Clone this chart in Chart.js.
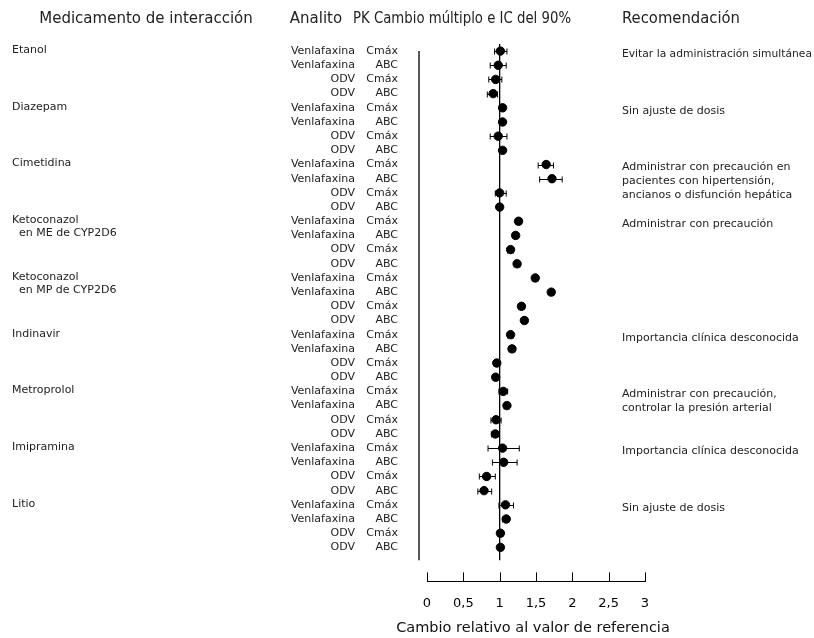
<!DOCTYPE html>
<html>
<head>
<meta charset="utf-8">
<script src="https://cdn.jsdelivr.net/npm/chart.js@4.4.1/dist/chart.umd.min.js"></script>
<style>
  html, body { margin: 0; padding: 0; background: #fff; }
</style>
</head>
<body>
<canvas id="forestChart" width="814" height="638"></canvas>
<script>
/* Datos: cambio múltiplo (PK) e IC del 90% */
const drugs = [
  ['Etanol'], ['Diazepam'], ['Cimetidina'],
  ['Ketoconazol', '  en ME de CYP2D6'], ['Ketoconazol', '  en MP de CYP2D6'],
  ['Indinavir'], ['Metroprolol'], ['Imipramina'], ['Litio']
];
const analytes = ['Venlafaxina', 'Venlafaxina', 'ODV', 'ODV'];
const params = ['Cmáx', 'ABC', 'Cmáx', 'ABC'];

const estimate = [
  1.01, 0.98, 0.945, 0.91,
  1.04, 1.04, 0.98, 1.04,
  1.64, 1.72, 1.00, 1.00,
  1.26, 1.22, 1.15, 1.24,
  1.49, 1.71, 1.30, 1.34,
  1.15, 1.17, 0.96, 0.945,
  1.05, 1.10, 0.95, 0.94,
  1.04, 1.055, 0.82, 0.785,
  1.08, 1.09, 1.01, 1.01
];
const lower = [
  0.93, 0.87, 0.85, 0.83,
  1.00, 1.01, 0.87, 1.01,
  1.53, 1.55, 0.94, 0.97,
  1.22, 1.18, 1.11, 1.20,
  1.45, 1.67, 1.26, 1.30,
  1.11, 1.13, 0.92, 0.91,
  0.99, 1.06, 0.88, 0.89,
  0.84, 0.90, 0.72, 0.70,
  0.99, 1.04, 0.97, 0.97
];
const upper = [
  1.10, 1.09, 1.03, 0.97,
  1.07, 1.07, 1.10, 1.07,
  1.74, 1.86, 1.09, 1.03,
  1.30, 1.26, 1.19, 1.28,
  1.53, 1.75, 1.34, 1.38,
  1.19, 1.21, 1.00, 0.98,
  1.11, 1.13, 1.02, 0.99,
  1.27, 1.24, 0.94, 0.89,
  1.19, 1.13, 1.05, 1.05
];
const recommendations = [
  ['Evitar la administración simultánea'],
  ['Sin ajuste de dosis'],
  ['Administrar con precaución en', 'pacientes con hipertensión,', 'ancianos o disfunción hepática'],
  ['Administrar con precaución'],
  [],
  ['Importancia clínica desconocida'],
  ['Administrar con precaución,', 'controlar la presión arterial'],
  ['Importancia clínica desconocida'],
  ['Sin ajuste de dosis']
];
const xTicks = [0, 0.5, 1, 1.5, 2, 2.5, 3];
const xTitle = 'Cambio relativo al valor de referencia';

const FONT = 'DejaVu Sans';
const nRows = estimate.length;
const points = estimate.map((v, i) => ({ x: v, y: i }));

/* Textos, barras de error y marcas del eje */
const forestPlugin = {
  id: 'forest',
  beforeDatasetsDraw(chart) {
    const { ctx, scales: { x, y } } = chart;
    ctx.save();
    ctx.strokeStyle = '#000';
    ctx.lineWidth = 1;
    for (let i = 0; i < nRows; i++) {
      const py = Math.round(y.getPixelForValue(i)) + 0.5;
      const x1 = x.getPixelForValue(lower[i]);
      const x2 = x.getPixelForValue(upper[i]);
      ctx.beginPath();
      ctx.moveTo(x1, py); ctx.lineTo(x2, py);
      ctx.moveTo(x1, py - 3); ctx.lineTo(x1, py + 3);
      ctx.moveTo(x2, py - 3); ctx.lineTo(x2, py + 3);
      ctx.stroke();
    }
    ctx.restore();
  },
  afterDraw(chart) {
    const { ctx, chartArea, scales: { x, y } } = chart;
    ctx.save();
    ctx.fillStyle = '#222';
    ctx.textBaseline = 'middle';

    // encabezados
    ctx.font = '15px "' + FONT + '"';
    ctx.textAlign = 'center';
    ctx.fillText('Medicamento de interacción', 146, 19, 226);
    ctx.fillText('Analito', 316, 19);
    ctx.fillText('PK Cambio múltiplo e IC del 90%', 462, 19, 218);
    ctx.textAlign = 'left';
    ctx.fillText('Recomendación', 622, 19, 118);

    ctx.font = '11px "' + FONT + '"';
    drugs.forEach((lines, g) => {
      const y0 = y.getPixelForValue(g * 4);
      ctx.textAlign = 'left';
      lines.forEach((t, k) => {
        ctx.fillText(t, 12, y0 - 1 + k * 13);
      });
      recommendations[g].forEach((t, k) => {
        ctx.fillText(t, 622, y0 + 3 + k * 14, 190);
      });
    });
    for (let i = 0; i < nRows; i++) {
      const py = y.getPixelForValue(i);
      ctx.textAlign = 'right';
      ctx.fillText(analytes[i % 4], 355, py);
      ctx.fillText(params[i % 4], 398, py);
    }

    // marcas del eje x hacia arriba
    ctx.strokeStyle = '#000';
    ctx.lineWidth = 1;
    ctx.beginPath();
    xTicks.forEach(v => {
      const px = Math.round(x.getPixelForValue(v)) + 0.5;
      ctx.moveTo(px, chartArea.bottom);
      ctx.lineTo(px, chartArea.bottom - 9);
    });
    ctx.stroke();

    // título del eje x
    ctx.font = '14.5px "' + FONT + '"';
    ctx.fillStyle = '#111';
    ctx.textAlign = 'center';
    ctx.fillText(xTitle, (chartArea.left + chartArea.right) / 2 - 3, 628);
    ctx.restore();
  }
};

new Chart(document.getElementById('forestChart'), {
  type: 'scatter',
  data: {
    datasets: [
      {
        type: 'line',
        data: [{ x: 1, y: -0.5 }, { x: 1, y: 35.9 }],
        borderColor: '#000',
        borderWidth: 1.3,
        pointRadius: 0
      },
      {
        type: 'line',
        data: [{ x: -0.11, y: 0 }, { x: -0.11, y: 35.9 }],
        borderColor: '#000',
        borderWidth: 1.3,
        pointRadius: 0,
        clip: false
      },
      {
        data: points,
        backgroundColor: '#000',
        borderColor: '#000',
        pointRadius: 4.2,
        pointHoverRadius: 4.2
      }
    ]
  },
  options: {
    responsive: false,
    animation: false,
    layout: { padding: { left: 427, right: 169, top: 44, bottom: 13 } },
    plugins: { legend: { display: false }, tooltip: { enabled: false } },
    scales: {
      x: {
        type: 'linear',
        min: 0,
        max: 3,
        afterBuildTicks: axis => { axis.ticks = xTicks.map(v => ({ value: v })); },
        grid: { drawOnChartArea: false, drawTicks: false },
        border: { display: true, color: '#000', width: 1 },
        ticks: {
          padding: 14,
          color: '#000',
          font: { family: FONT, size: 13 },
          callback: v => String(v).replace('.', ',')
        },
        title: { display: false }
      },
      y: {
        type: 'linear',
        reverse: true,
        min: -0.5,
        max: 37.4,
        display: false
      }
    }
  },
  plugins: [forestPlugin]
});
</script>
</body>
</html>
